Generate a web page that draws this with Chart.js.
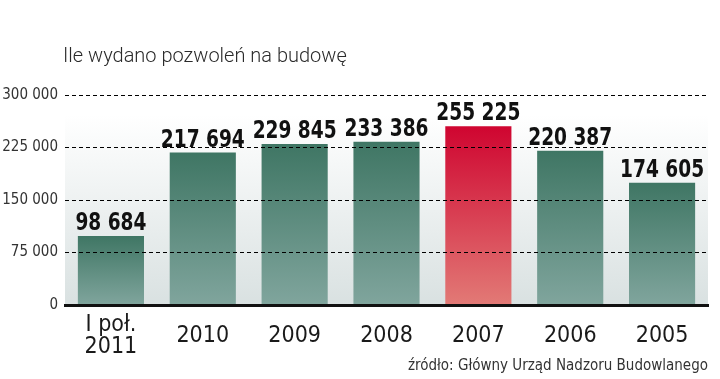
<!DOCTYPE html>
<html lang="pl">
<head>
<meta charset="utf-8">
<script src="https://cdn.jsdelivr.net/npm/chart.js@4.4.1/dist/chart.umd.min.js"></script>
<style>
  html, body { margin: 0; padding: 0; background: #ffffff; }
  #wrap { position: relative; width: 720px; height: 379px; overflow: hidden; }
  #title { position: absolute; left: 63px; top: 43px; font-family: Roboto, "Open Sans", sans-serif; font-weight: 300; font-size: 20px; color: #2a2a2a; white-space: nowrap; }
  #source { position: absolute; right: 12px; top: 356px; font-family: "DejaVu Sans Condensed", "DejaVu Sans", sans-serif; font-size: 15px; color: #333; white-space: nowrap; }
  canvas { position: absolute; left: 0; top: 0; }
</style>
</head>
<body>
<div id="wrap">
  <canvas id="c" width="720" height="379"></canvas>
  <div id="title">Ile wydano pozwoleń na budowę</div>
  <div id="source">źródło: Główny Urząd Nadzoru Budowlanego</div>
</div>
<script>
// ---- data ----
const categories = [["I poł.", "2011"], "2010", "2009", "2008", "2007", "2006", "2005"];
const permits = [98684, 217694, 229845, 233386, 255225, 220387, 174605];
const yTicks = [0, 75000, 150000, 225000, 300000];
const highlighted = "2007";

function fmt(v) {
  return String(v).replace(/\B(?=(\d{3})+(?!\d))/g, " ");
}

const condensed = '"DejaVu Sans Condensed", "DejaVu Sans", sans-serif';

function barFill(ctx) {
  const chart = ctx.chart;
  const area = chart.chartArea;
  if (!area) return '#4a7c6c';
  const yScale = chart.scales.y;
  const v = ctx.parsed ? ctx.parsed.y : permits[ctx.dataIndex];
  const top = yScale.getPixelForValue(v);
  const bottom = yScale.getPixelForValue(0);
  const g = chart.ctx.createLinearGradient(0, top, 0, bottom);
  const cat = categories[ctx.dataIndex];
  if (cat === highlighted) {
    g.addColorStop(0, '#cf0530');
    g.addColorStop(1, '#e27a76');
  } else {
    g.addColorStop(0, '#3f7664');
    g.addColorStop(1, '#80a59d');
  }
  return g;
}

const bgPlugin = {
  id: 'plotBg',
  beforeDraw(chart) {
    const a = chart.chartArea;
    const c = chart.ctx;
    const g = c.createLinearGradient(0, a.top + 20, 0, a.bottom);
    g.addColorStop(0, '#ffffff');
    g.addColorStop(1, '#d9e1e1');
    c.save();
    c.fillStyle = g;
    c.fillRect(a.left, a.top + 20, a.right - a.left, a.bottom - a.top - 20);
    c.restore();
  }
};

const valueLabels = {
  id: 'valueLabels',
  afterDatasetsDraw(chart) {
    const c = chart.ctx;
    const meta = chart.getDatasetMeta(0);
    c.save();
    c.font = 'bold 24px ' + condensed;
    c.fillStyle = '#111';
    c.textAlign = 'center';
    c.textBaseline = 'alphabetic';
    meta.data.forEach((bar, i) => {
      c.save();
      c.translate(bar.x, bar.y - 6);
      c.scale(0.86, 1);
      c.fillText(fmt(permits[i]), 0, 0);
      c.restore();
    });
    c.restore();
  }
};

new Chart(document.getElementById('c'), {
  type: 'bar',
  data: {
    labels: categories,
    datasets: [{
      data: permits,
      backgroundColor: barFill,
      borderWidth: 0,
      categoryPercentage: 1,
      barPercentage: 0.72
    }]
  },
  options: {
    responsive: false,
    animation: false,
    devicePixelRatio: 1,
    layout: { padding: { left: 0, right: 12, top: 95, bottom: 0 } },
    plugins: { legend: { display: false }, tooltip: { enabled: false } },
    scales: {
      x: {
        grid: { display: false, drawTicks: false },
        border: { display: true, color: '#111', width: 3, z: 2 },
        ticks: {
          font: { family: condensed, size: 23, lineHeight: 0.95 },
          color: '#1a1a1a',
          padding: 20,
          crossAlign: 'center',
          maxRotation: 0,
          autoSkip: false
        },
        afterFit(scale) { scale.height = 74; }
      },
      y: {
        min: 0,
        max: 300000,
        afterBuildTicks(scale) { scale.ticks = yTicks.map(v => ({ value: v })); },
        grid: {
          color: '#000',
          lineWidth: 1,
          drawTicks: false,
          z: 1
        },
        border: { display: false, dash: [4, 3] },
        ticks: {
          font: { family: condensed, size: 15 },
          color: '#333',
          padding: 7,
          callback: (v) => fmt(v)
        },
        afterFit(scale) { scale.width = 65; }
      }
    }
  },
  plugins: [bgPlugin, valueLabels]
});
</script>
</body>
</html>
